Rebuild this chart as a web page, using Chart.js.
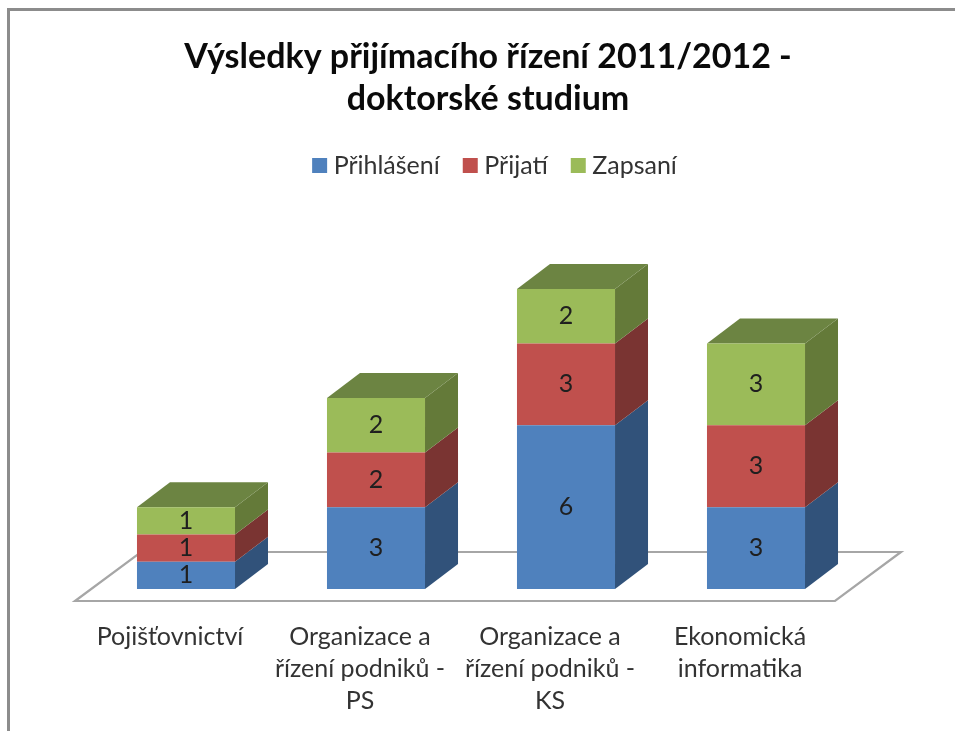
<!DOCTYPE html>
<html lang="cs"><head><meta charset="utf-8">
<style>html,body{margin:0;padding:0;background:#fff}canvas{display:block}</style>
<script src="https://cdn.jsdelivr.net/npm/chart.js@4/dist/chart.umd.min.js"></script>
</head><body>
<canvas id="c" width="955" height="731"></canvas>
<script>
const categories = [
  "Pojišťovnictví",
  ["Organizace a", "řízení podniků -", "PS"],
  ["Organizace a", "řízení podniků -", "KS"],
  ["Ekonomická", "informatika"]
];
const prihlaseni = [1, 3, 6, 3];
const prijati = [1, 2, 3, 3];
const zapsani = [1, 2, 2, 3];
const titleLines = ["Výsledky přijímacího řízení 2011/2012 -", "doktorské studium"];
const faceColors = ["#4F81BD", "#C0504D", "#9BBB59"];
const sideColors = ["#31527A", "#7A3432", "#647A39"];
const topColor = "#6C8442";
const FONT = "Lato, Carlito, sans-serif";
const DX = 33, DY = 25;

const scene3d = {
  id: "scene3d",
  afterLayout(chart) {
    chart.titleBlock.left += 17; chart.titleBlock.right += 17;
    chart.legend.left += 26.5; chart.legend.right += 26.5;
  },
  beforeDraw(chart) {
    const c = chart.ctx;
    c.save();
    c.strokeStyle = "#8C8C8C"; c.lineWidth = 3;
    c.beginPath(); c.moveTo(8.5, 731); c.lineTo(8.5, 9.5); c.lineTo(955, 9.5); c.stroke();
    const y0 = chart.scales.y.getPixelForValue(0);
    const l = chart.chartArea.left, r = chart.chartArea.right;
    c.strokeStyle = "#A6A6A6"; c.lineWidth = 2.2; c.lineJoin = "miter";
    c.beginPath();
    c.moveTo(l - 16, y0 + 12); c.lineTo(r - 16, y0 + 12);
    c.lineTo(r + 50, y0 - 37); c.lineTo(l + 50, y0 - 37);
    c.closePath(); c.stroke();
    c.restore();
  },
  beforeDatasetsDraw(chart) {
    const c = chart.ctx, n = chart.data.datasets.length;
    chart.data.datasets.forEach((ds, i) => {
      chart.getDatasetMeta(i).data.forEach(b => {
        const p = b.getProps(["x", "y", "base", "width"], true);
        const xr = p.x + p.width / 2, xl = p.x - p.width / 2;
        c.fillStyle = sideColors[i];
        c.beginPath();
        c.moveTo(xr, p.base); c.lineTo(xr + DX, p.base - DY);
        c.lineTo(xr + DX, p.y - DY); c.lineTo(xr, p.y);
        c.closePath(); c.fill();
        if (i === n - 1) {
          c.fillStyle = topColor;
          c.beginPath();
          c.moveTo(xl, p.y); c.lineTo(xl + DX, p.y - DY);
          c.lineTo(xr + DX, p.y - DY); c.lineTo(xr, p.y);
          c.closePath(); c.fill();
        }
      });
    });
  },
  afterDatasetsDraw(chart) {
    const c = chart.ctx;
    c.save();
    c.font = "25px " + FONT; c.fillStyle = "#1F1F1F";
    c.textAlign = "center"; c.textBaseline = "middle";
    chart.data.datasets.forEach((ds, i) => {
      chart.getDatasetMeta(i).data.forEach((b, k) => {
        const p = b.getProps(["x", "y", "base"], true);
        c.fillText(String(ds.data[k]), p.x, (p.y + p.base) / 2);
      });
    });
    c.restore();
  }
};

new Chart(document.getElementById("c"), {
  type: "bar",
  data: {
    labels: categories,
    datasets: [
      { label: "Přihlášení", data: prihlaseni, backgroundColor: faceColors[0] },
      { label: "Přijatí", data: prijati, backgroundColor: faceColors[1] },
      { label: "Zapsaní", data: zapsani, backgroundColor: faceColors[2] }
    ]
  },
  plugins: [scene3d],
  options: {
    responsive: false,
    animation: false,
    layout: { padding: { left: 91, right: 104, top: 0, bottom: 12 } },
    datasets: { bar: { barPercentage: 1, categoryPercentage: 0.516 } },
    scales: {
      x: {
        stacked: true,
        afterFit(s) { s.height = 130; },
        grid: { display: false, drawTicks: false },
        border: { display: false },
        ticks: { color: "#333", font: { family: FONT, size: 25, lineHeight: 1.28 }, padding: 32, labelOffset: -16, maxRotation: 0, autoSkip: false }
      },
      y: { stacked: true, display: false, min: 0, max: 14.7 }
    },
    plugins: {
      title: {
        display: true, text: titleLines, color: "#0A0A0A",
        font: { family: FONT, size: 34, weight: "bold", lineHeight: 1.235 },
        padding: { top: 36, bottom: 4 }
      },
      legend: {
        display: true, position: "top",
        labels: { color: "#333", font: { family: FONT, size: 25 }, usePointStyle: true, pointStyle: "rect", boxWidth: 3, boxHeight: 15, padding: 29 }
      },
      tooltip: { enabled: false }
    }
  }
});
</script>
</body></html>
